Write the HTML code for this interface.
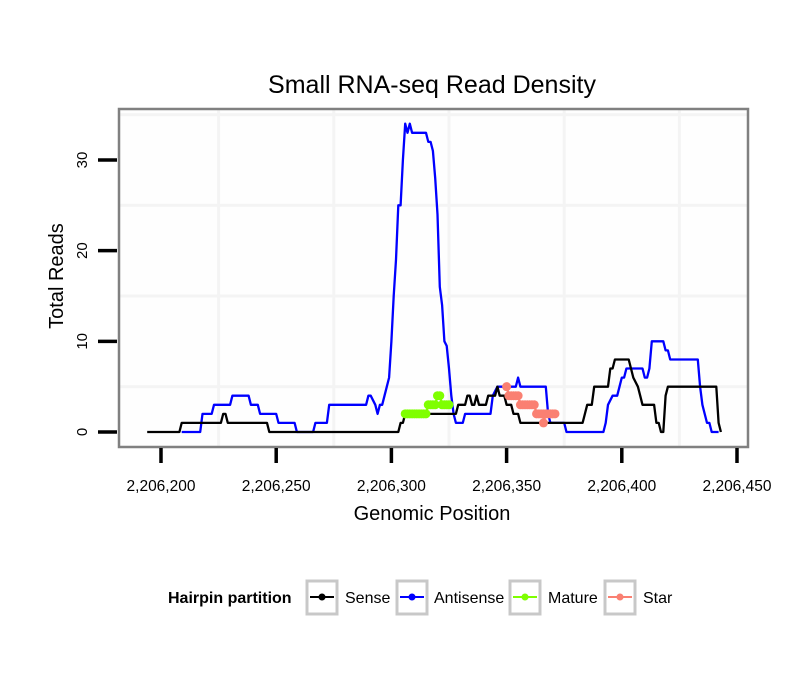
<!DOCTYPE html>
<html><head><meta charset="utf-8">
<style>
body{margin:0;background:#fff;}
svg text{font-family:"Liberation Sans",sans-serif;}
</style></head>
<body>
<svg id="chart" width="810" height="690" viewBox="0 0 810 690" xmlns="http://www.w3.org/2000/svg">
<rect width="810" height="690" fill="#fff"/>
<text x="432" y="93" font-size="25" text-anchor="middle">Small RNA-seq Read Density</text>
<rect x="119" y="109" width="629" height="338" fill="#fefefe"/>
<g id="grid"></g>
<g id="series"></g>
<rect x="119" y="109" width="629" height="338" fill="none" stroke="#808080" stroke-width="2.5"/>
<g id="axes"></g>
<text x="0" y="0" transform="translate(63,276) rotate(-90)" font-size="20" text-anchor="middle">Total Reads</text>
<text x="432" y="520" font-size="20" text-anchor="middle">Genomic Position</text>
<g>
<text x="168" y="603" font-size="16" font-weight="bold">Hairpin partition</text>
<g>
<rect x="307" y="581" width="30" height="33" fill="#fff" stroke="#c8c8c8" stroke-width="3"/>
<line x1="310" y1="597" x2="334" y2="597" stroke="#000" stroke-width="2"/><circle cx="322" cy="597" r="3.5" fill="#000"/>
<text x="345" y="603" font-size="16">Sense</text></g>
<g>
<rect x="397" y="581" width="30" height="33" fill="#fff" stroke="#c8c8c8" stroke-width="3"/>
<line x1="400" y1="597" x2="424" y2="597" stroke="#0000ff" stroke-width="2"/><circle cx="412" cy="597" r="3.5" fill="#0000ff"/>
<text x="434" y="603" font-size="16">Antisense</text></g>
<g>
<rect x="510" y="581" width="30" height="33" fill="#fff" stroke="#c8c8c8" stroke-width="3"/>
<line x1="513" y1="597" x2="537" y2="597" stroke="#7fff00" stroke-width="2"/><circle cx="525" cy="597" r="3.5" fill="#7fff00"/>
<text x="548" y="603" font-size="16">Mature</text></g>
<g>
<rect x="605" y="581" width="30" height="33" fill="#fff" stroke="#c8c8c8" stroke-width="3"/>
<line x1="608" y1="597" x2="632" y2="597" stroke="#fa8072" stroke-width="2"/><circle cx="620" cy="597" r="3.5" fill="#fa8072"/>
<text x="643" y="603" font-size="16">Star</text></g>
</g>
</svg>
<script>
const BASE = 2206200;
const xTicks = [2206200, 2206250, 2206300, 2206350, 2206400, 2206450];
const xTickLabels = ["2,206,200","2,206,250","2,206,300","2,206,350","2,206,400","2,206,450"];
const yTicks = [0, 10, 20, 30];
const yTickLabels = ["0","10","20","30"];
const senseOffsets = [-6,8,9,26,27,28,29,46,47,103,104,105,106,126,128,129,132,133,134,135,136,137,138,141,142,145,146,147,149,150,152,153,155,156,157,160,161,165,183,184,185,187,188,194,195,196,197,203,204,205,207,208,209,214,215,216,217,218,219,220,241,242,243];
const senseValues  = [0,0,1,1,2,2,1,1,0,0,1,1,2,2,2,3,3,4,4,3,3,4,3,3,4,4,5,4,4,3,3,2,2,1,1,1,1,1,1,2,3,3,5,5,7,7,8,8,7,6,5,4,3,3,1,1,0,0,4,5,5,1,0];
const antiOffsets = [9,17,18,22,23,30,31,38,39,42,43,50,51,58,59,66,67,72,73,89,90,91,93,94,95,96,98,99,100,101,102,103,104,105,106,107,108,109,115,116,117,118,119,120,121,122,123,124,125,126,127,128,131,132,143,144,146,154,155,156,167,168,169,175,176,192,193,194,196,198,199,200,201,202,209,210,211,212,213,218,219,220,221,233,234,235,236,237,238,239,242];
const antiValues  = [0,0,2,2,3,3,4,4,3,3,2,2,1,1,0,0,1,1,3,3,4,4,3,2,3,3,5,6,10,15,19,25,25,30,34,33,34,33,33,32,32,31,28,24,16,14,10,9.5,7,4,2,1,1,2,2,4,5,5,6,5,5,2,1,1,0,0,1,3,4,4,5,6,6,7,7,6,6,7,10,10,9,9,8,8,5,3,2,1,1,0,0];
const matureOffsets = [106,107,108,109,110,111,112,113,114,115,116,117,118,119,120,121,122,123,124,125];
const matureValues  = [2,2,2,2,2,2,2,2,2,2,3,3,3,3,4,4,3,3,3,3];
const starOffsets = [150,151,152,153,154,155,156,157,158,159,160,161,162,163,164,165,166,166,167,168,169,170,171];
const starValues  = [5,4,4,4,4,4,3,3,3,3,3,3,3,2,2,2,2,1,2,2,2,2,2];

const NS = "http://www.w3.org/2000/svg";
function xs(p){ return 161 + (p - BASE) * 2.304; }
function ys(v){ return 432 - v * 9.067; }
function mk(tag, attrs, parent){
  const e = document.createElementNS(NS, tag);
  for (const k in attrs) e.setAttribute(k, attrs[k]);
  parent.appendChild(e); return e;
}
const grid = document.getElementById('grid');
[2206225,2206275,2206325,2206375,2206425].forEach(function(p){
  const l = mk('line',{x1:xs(p),x2:xs(p),y1:110,y2:446,stroke:'#f4f4f4','stroke-width':3},grid);
  
  
});
[5,15,25,35].forEach(function(v){
  const l = mk('line',{x1:120,x2:747,y1:ys(v),y2:ys(v),stroke:'#f4f4f4','stroke-width':3},grid);
  
  
});
const axes = document.getElementById('axes');
xTicks.forEach(function(p,i){
  const t = mk('line',{x1:xs(p),x2:xs(p),y1:448,y2:463,stroke:'#000','stroke-width':3.5},axes);
  
  
  const tx = mk('text',{x:xs(p),y:491,'font-size':15.5,'text-anchor':'middle'},axes);
  tx.textContent = xTickLabels[i];
  
  
});
yTicks.forEach(function(v,i){
  const t = mk('line',{x1:98,x2:117,y1:ys(v),y2:ys(v),stroke:'#000','stroke-width':3.5},axes);
  
  
  const tx = mk('text',{x:0,y:0,'font-size':15,'text-anchor':'middle',transform:'translate(87,'+ys(v)+') rotate(-90)'},axes);
  tx.textContent = yTickLabels[i];
  
  
});
const series = document.getElementById('series');
function drawLine(offs, vals, color, name){
  const pts = offs.map(function(o,i){ return xs(BASE+o).toFixed(1)+','+ys(vals[i]).toFixed(1); }).join(' ');
  const pl = mk('polyline',{points:pts,fill:'none',stroke:color,'stroke-width':2.3,'stroke-linejoin':'round'},series);
  
  
}
function drawPoints(offs, vals, color, name){
  drawLine(offs, vals, color, name + '-line');
  offs.forEach(function(o,i){
    const c = mk('circle',{cx:xs(BASE+o),cy:ys(vals[i]),r:4.5,fill:color},series);
    
    
  });
}
drawLine(antiOffsets, antiValues, '#0000ff', 'antisense-line');
drawLine(senseOffsets, senseValues, '#000000', 'sense-line');
drawPoints(matureOffsets, matureValues, '#7fff00', 'mature');
drawPoints(starOffsets, starValues, '#fa8072', 'star');
</script>
</body></html>
